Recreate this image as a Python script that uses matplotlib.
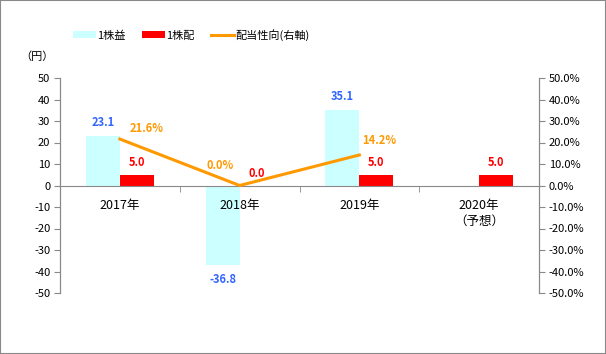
import matplotlib
matplotlib.use("Agg")
import matplotlib.pyplot as plt
from matplotlib.ticker import FuncFormatter, FixedLocator
from matplotlib.patches import Rectangle

plt.rcParams['font.family'] = ['Noto Sans CJK JP', 'DejaVu Sans']
plt.rcParams['axes.unicode_minus'] = False

years = ['2017年', '2018年', '2019年', '2020年\n（予想）']
eps = [23.1, -36.8, 35.1, None]
dps = [5.0, 0.0, 5.0, 5.0]
payout = [21.6, 0.0, 14.2]

grey = '#898989'
fig = plt.figure(figsize=(6.06, 3.54), dpi=100)
ax = fig.add_axes([60 / 606, 1 - 293 / 354, 479 / 606, 215 / 354])
ax2 = ax.twinx()

x = list(range(len(years)))
w = 0.283
eps_x = [i - w / 2 for i, v in zip(x, eps) if v is not None]
eps_v = [v for v in eps if v is not None]
ax.bar(eps_x, eps_v, width=w, color='#CCFFFF', label='1株益', zorder=2)
ax.bar([i + w / 2 for i in x], dps, width=w, color='#FF0000', label='1株配', zorder=2)

ax.set_xlim(-0.5, 3.5)
ax.set_ylim(-50, 50)
ax.set_yticks(range(-50, 51, 10))
ax.set_xticks(x)
ax.set_xticklabels(years, linespacing=1.1)
ax.xaxis.set_minor_locator(FixedLocator([0.5, 1.5, 2.5]))
ax.tick_params(axis='x', which='major', length=0, pad=10, labelsize=9)
ax.tick_params(axis='x', which='minor', length=4, color=grey, direction='out')
ax.tick_params(axis='y', length=4, color=grey, labelsize=8, pad=3)
ax.xaxis.set_zorder(5)
ax.spines['bottom'].set_position(('data', 0))
ax.spines['top'].set_visible(False)
ax2.spines['top'].set_visible(False)
for a in (ax, ax2):
    for s in ['left', 'right', 'bottom']:
        a.spines[s].set_color(grey)
ax2.spines['bottom'].set_visible(False)

ax2.plot(x[:len(payout)], [p / 100 for p in payout], color='#FF9900', lw=2.2,
         label='配当性向(右軸)', zorder=3)
ax2.set_ylim(-0.5, 0.5)
ax2.set_yticks([i / 10 for i in range(-5, 6)])
ax2.yaxis.set_major_formatter(FuncFormatter(lambda v, p: f'{v * 100:.1f}%'))
ax2.tick_params(axis='y', length=4, color=grey, labelsize=8, pad=3)

# data labels
for i, v in zip(x, eps):
    if v is None:
        continue
    off = 5 if v >= 0 else -6
    ax2.annotate(f'{v:.1f}', (i - w / 2, v / 100), xytext=(0, off), textcoords='offset points',
                 ha='center', va='bottom' if v >= 0 else 'top', color='#3366FF',
                 fontsize=8, fontweight='semibold')
for i, v in zip(x, dps):
    ax2.annotate(f'{v:.1f}', (i + w / 2, v / 100), xytext=(0, 4), textcoords='offset points',
                 ha='center', va='bottom', color='#FF0000', fontsize=8, fontweight='semibold')
pay_off = [(19, 3), (-14, 10), (14, 6)]
for i, v, o in zip(x, payout, pay_off):
    ax2.annotate(f'{v:.1f}%', (i, v / 100), xytext=o, textcoords='offset points',
                 ha='center', va='bottom', color='#FF9900', fontsize=8, fontweight='semibold')

fig.text(20 / 606, 1 - 57 / 354, '（円）', fontsize=8, va='center', ha='left')

h1, l1 = ax.get_legend_handles_labels()
h2, l2 = ax2.get_legend_handles_labels()
fig.legend(h1 + h2, l1 + l2, loc='center left', bbox_to_anchor=(63 / 606, 1 - 35 / 354),
           ncol=3, frameon=False, fontsize=8, handlelength=2.1, handleheight=0.6,
           columnspacing=1.45, handletextpad=0.1)

fig.patches.append(Rectangle((0, 0), 1, 1, transform=fig.transFigure, fill=False,
                             edgecolor=grey, lw=1.5))
fig.savefig('out.png', dpi=100)
